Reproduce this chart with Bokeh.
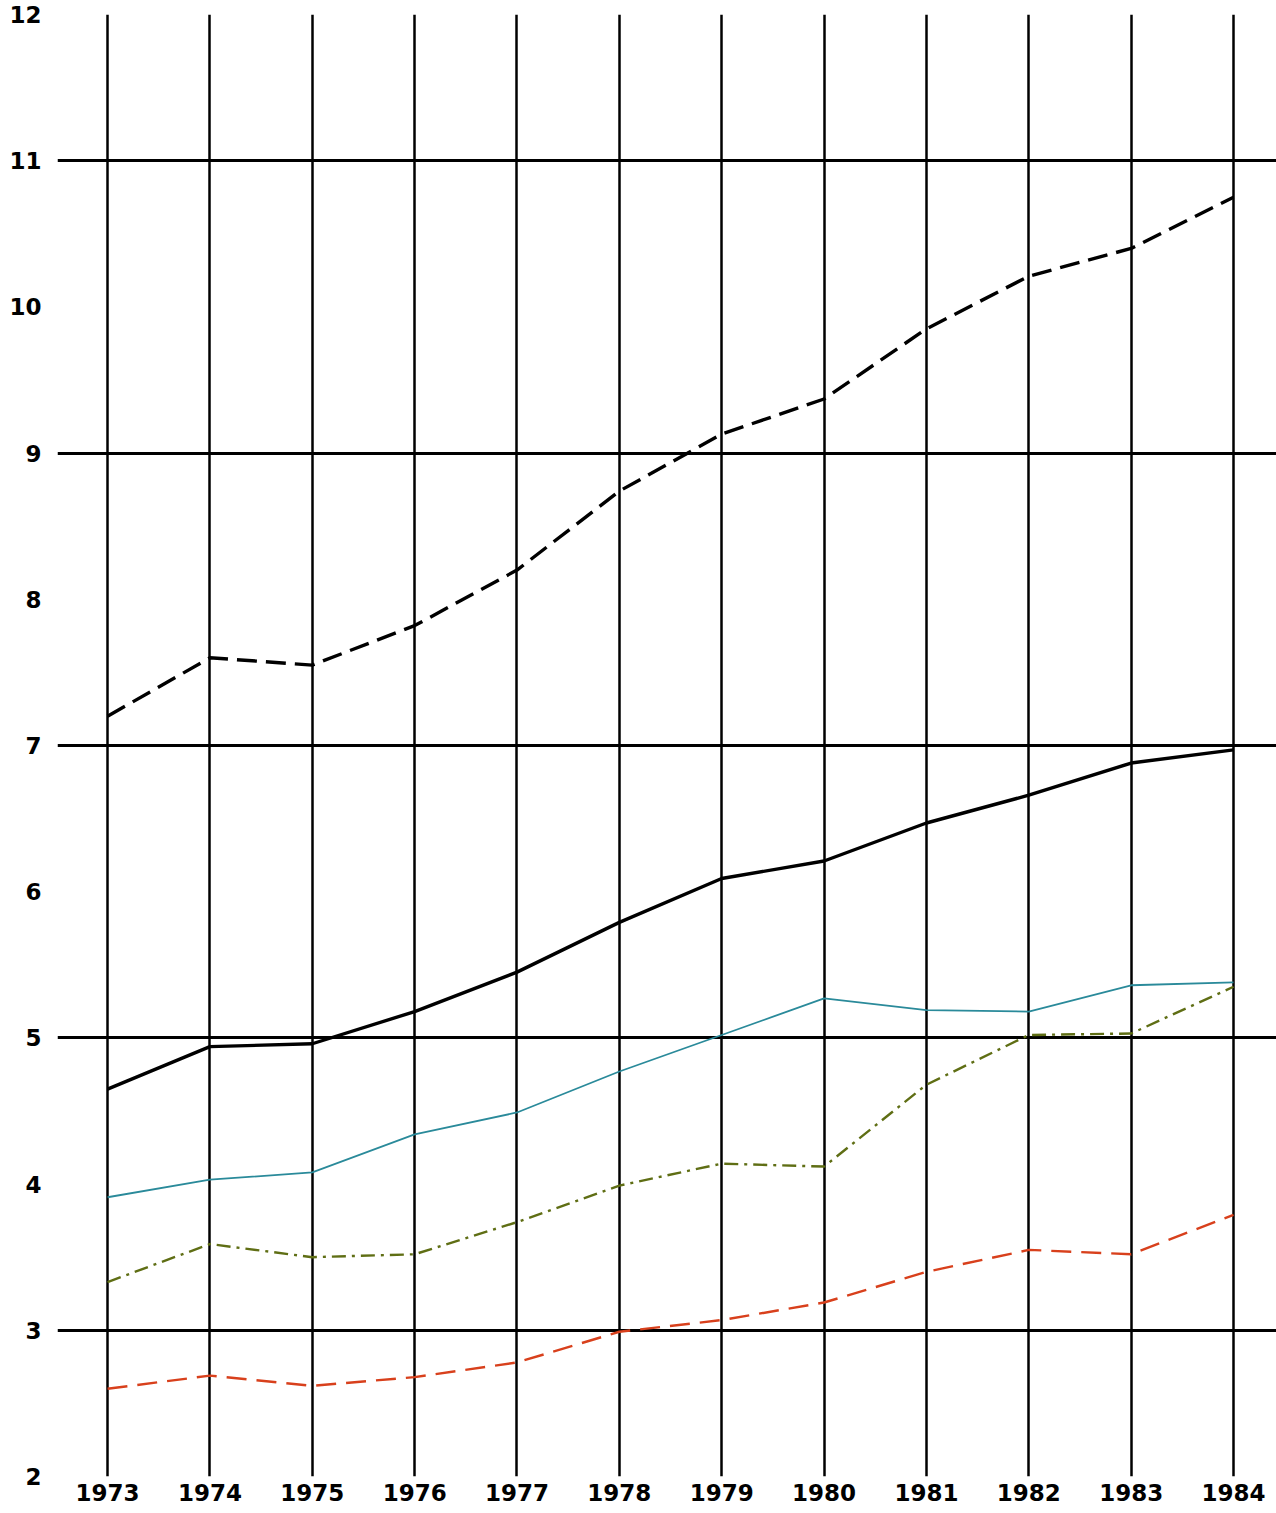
from bokeh.plotting import figure
from bokeh.models import FixedTicker, Range1d
from bokeh.embed import file_html
from bokeh.resources import INLINE

# ---- data ----
years = [1973, 1974, 1975, 1976, 1977, 1978, 1979, 1980, 1981, 1982, 1983, 1984]
series_dashed_black = [7.20, 7.60, 7.55, 7.82, 8.20, 8.74, 9.13, 9.37, 9.85, 10.21, 10.40, 10.75]
series_solid_black = [4.65, 4.94, 4.96, 5.18, 5.45, 5.79, 6.09, 6.21, 6.47, 6.66, 6.88, 6.97]
series_blue = [3.91, 4.03, 4.08, 4.34, 4.49, 4.77, 5.02, 5.27, 5.19, 5.18, 5.36, 5.38]
series_olive = [3.33, 3.59, 3.50, 3.52, 3.74, 3.99, 4.14, 4.12, 4.68, 5.02, 5.03, 5.35]
series_red = [2.60, 2.69, 2.62, 2.68, 2.78, 2.99, 3.07, 3.19, 3.40, 3.55, 3.52, 3.79]

y_ticks = [2, 3, 4, 5, 6, 7, 8, 9, 10, 11, 12]
y_tick_labels = ["2", "3", "4", "5", "6", "7", "8", "9", "10", "11", "12"]
y_grid_values = [3, 5, 7, 9, 11]
x_tick_labels = ["1973", "1974", "1975", "1976", "1977", "1978",
                 "1979", "1980", "1981", "1982", "1983", "1984"]

X_START, X_END = 1972.511, 1984.42
Y_START, Y_END = 2, 12

FONT = "DejaVu Sans"

p = figure(width=1276, height=1513,
           x_range=Range1d(X_START, X_END), y_range=Range1d(Y_START, Y_END),
           output_backend="svg", toolbar_location=None,
           min_border_left=57, min_border_right=0,
           min_border_top=14, min_border_bottom=37)
p.outline_line_color = None
p.background_fill_color = "white"
p.border_fill_color = "white"

# axes: labels only
p.xaxis.ticker = FixedTicker(ticks=years)
p.xaxis.major_label_overrides = {y: t for y, t in zip(years, x_tick_labels)}
p.yaxis.ticker = FixedTicker(ticks=y_ticks)
p.yaxis.major_label_overrides = {y: t for y, t in zip(y_ticks, y_tick_labels)}
for ax in (p.xaxis, p.yaxis):
    ax.axis_line_color = None
    ax.major_tick_line_color = None
    ax.minor_tick_line_color = None
    ax.major_tick_out = 0
    ax.major_tick_in = 0
    ax.minor_tick_out = 0
    ax.major_label_text_font = FONT
    ax.major_label_text_font_style = "bold"
    ax.major_label_text_font_size = "23px"
    ax.major_label_text_color = "black"
p.xaxis.major_label_standoff = 7
p.yaxis.major_label_standoff = 16

p.xgrid.ticker = FixedTicker(ticks=years)
p.xgrid.grid_line_color = "black"
p.xgrid.grid_line_width = 2.5
p.ygrid.ticker = FixedTicker(ticks=y_grid_values)
p.ygrid.grid_line_color = "black"
p.ygrid.grid_line_width = 2.8

p.line(years, series_dashed_black, line_color="black", line_width=3.4, line_dash="20 9")
p.line(years, series_solid_black, line_color="black", line_width=3.4)
p.line(years, series_blue, line_color="#2a8a9a", line_width=1.8)
p.line(years, series_olive, line_color="#5f6e14", line_width=2.4, line_dash="14 6 3 6")
p.line(years, series_red, line_color="#d8401c", line_width=2.4, line_dash="20 10")

open("out.html", "w").write(file_html(p, INLINE))
